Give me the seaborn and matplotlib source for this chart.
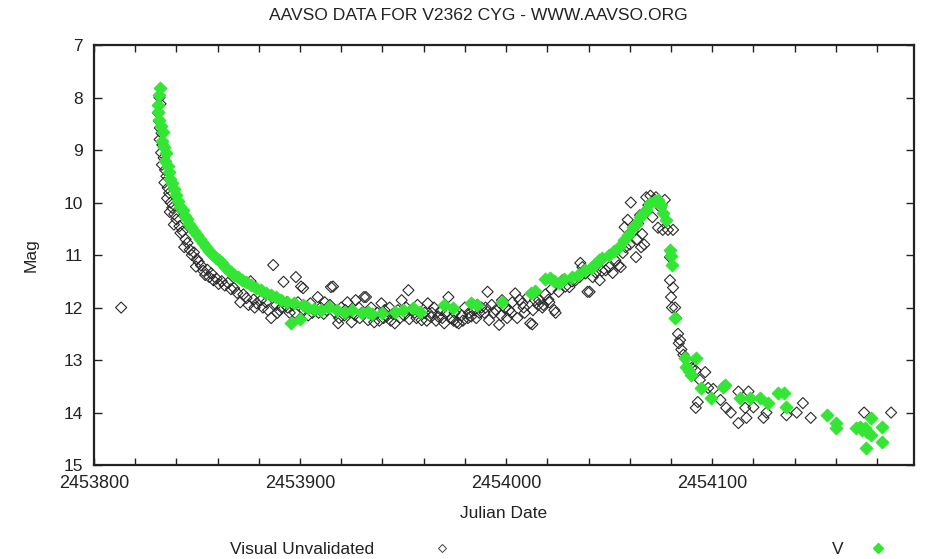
import numpy as np
import pandas as pd
import matplotlib
matplotlib.use("Agg")
import matplotlib.pyplot as plt
from matplotlib.lines import Line2D
from matplotlib.ticker import MultipleLocator
import seaborn as sns

TITLE = "AAVSO DATA FOR V2362 CYG - WWW.AAVSO.ORG"
JD0 = 2453800
x_ticks = [2453800, 2453900, 2454000, 2454100]
x_tick_labels = ["2453800", "2453900", "2454000", "2454100"]
y_ticks = [7, 8, 9, 10, 11, 12, 13, 14, 15]

# Visual Unvalidated observations: days after JD 2453800, magnitude
vis_day = [13.2,
    31.8, 32.3, 31.2, 31.6, 32.0, 32.8, 31.9, 33.2, 32.6, 33.8, 33.0, 34.5, 35.2, 34.2, 35.8,
    36.5, 35.5, 37.2, 38.0, 36.8, 39.0, 40.0, 38.8, 41.5, 42.0, 43.0, 44.5, 45.4, 43.8, 46.5,
    47.5, 48.5, 50.0, 50.8, 49.5, 52.0, 53.0, 54.0, 55.0, 56.0, 57.0, 58.0, 59.5, 60.5, 62.0,
    63.5, 65.0, 66.5, 68.0, 69.5, 71.0, 72.5, 74.0, 76.0, 77.5, 79.0, 81.0, 82.0, 83.5, 86.0,
    87.0, 88.5, 90.0, 91.0, 92.0, 93.5, 95.0, 96.5, 98.0, 99.0, 100.5, 101.5, 103.0, 105.0, 106.0,
    107.0, 108.6, 110.0, 111.5, 113.0, 114.5, 115.0, 116.0, 117.0, 118.5, 120.0, 121.5, 123.0, 124.0, 125.0,
    126.5, 127.0, 128.5, 130.0, 131.0, 132.0, 133.0, 134.5, 136.0, 137.5, 139.5, 141.0, 142.0, 143.5, 145.0,
    146.0, 147.5, 149.3, 150.5, 151.5, 152.6, 154.0, 155.6, 157.0, 159.0, 160.5, 162.0, 163.5, 165.0, 166.0,
    167.0, 168.5, 170.0, 171.0, 172.0, 173.5, 175.0, 176.0, 177.0, 178.5, 180.0, 181.5, 183.0, 184.5, 186.0,
    188.0, 189.5, 191.0, 191.7, 193.0, 195.0, 196.6, 198.0, 199.5, 201.5, 203.0, 204.4, 205.4, 206.5, 207.8,
    209.0, 210.5, 211.7, 212.7, 214.0, 215.5, 216.0, 217.6, 219.0, 220.5, 222.0, 223.4, 224.0, 225.5, 227.3,
    228.8, 230.7, 232.0, 233.7, 235.6, 236.0, 237.0, 238.5, 239.5, 240.5, 242.0, 243.4, 245.4, 246.5, 248.3,
    250.0, 251.7, 253.0, 254.5, 255.6, 256.6, 257.5, 258.0, 259.0, 260.0, 260.5, 261.5, 263.0, 263.5, 264.0,
    265.0, 265.5, 266.0, 267.0, 268.0, 269.0, 270.0, 271.0, 272.0, 272.7, 273.7, 275.0, 276.0, 277.0, 278.5,
    279.5, 279.5, 280.0, 280.5, 281.0, 281.0, 282.0, 282.4, 283.4, 283.8, 284.4, 285.0, 286.0, 288.5, 290.0,
    292.0, 293.0, 292.0, 294.0, 296.6, 298.0, 300.5, 304.0, 306.8, 309.0, 312.7, 312.7, 316.0, 316.6, 317.6,
    320.0, 324.9, 326.3, 336.0, 341.0, 344.0, 347.8, 373.7, 386.8,
    102.0, 104.0, 109.0, 112.0, 119.0, 122.0, 129.0, 135.0, 138.5, 140.5, 144.0, 148.5, 153.0, 156.5, 158.0,
    161.5, 164.0, 169.0, 174.5, 179.0, 182.0, 185.5, 187.0, 190.0, 194.0, 197.5, 200.5, 202.5, 208.5, 213.0,
    218.0, 221.0, 75.0, 78.0, 84.5, 89.0, 94.0, 97.5]
vis_mag = [12.0,
    8.0, 8.12, 8.3, 8.45, 8.58, 8.68, 8.8, 8.9, 9.05, 9.15, 9.28, 9.38, 9.5, 9.62, 9.72,
    9.82, 9.92, 10.0, 10.1, 10.18, 10.22, 10.32, 10.42, 10.45, 10.58, 10.55, 10.7, 10.77, 10.85, 10.9,
    11.0, 10.95, 11.08, 11.13, 11.22, 11.2, 11.3, 11.38, 11.28, 11.42, 11.35, 11.48, 11.45, 11.55, 11.5,
    11.58, 11.53, 11.65, 11.63, 11.72, 11.9, 11.75, 11.82, 11.5, 11.85, 11.92, 11.86, 12.0, 11.9, 12.2,
    11.19, 11.95, 12.05, 12.0, 11.51, 11.9, 12.1, 11.95, 11.42, 11.9, 11.6, 11.63, 12.0, 11.92, 12.1,
    12.05, 11.8, 12.0, 12.12, 12.05, 11.95, 11.61, 11.6, 12.1, 12.3, 12.0, 12.15, 11.9, 12.08, 12.28,
    12.14, 11.86, 12.0, 12.1, 11.8, 11.8, 12.24, 12.0, 12.28, 12.1, 11.92, 12.05, 12.17, 12.0, 12.12,
    12.3, 12.05, 11.86, 12.15, 12.0, 11.67, 12.05, 12.1, 11.95, 12.24, 12.1, 11.92, 12.18, 12.0, 12.25,
    12.17, 12.05, 12.3, 12.1, 11.8, 12.2, 12.1, 12.28, 12.3, 12.15, 12.0, 12.2, 12.17, 12.05, 11.95,
    12.0, 12.1, 11.7, 12.24, 11.95, 12.05, 12.33, 11.86, 12.0, 12.05, 11.9, 11.73, 12.2, 11.85, 11.92,
    12.1, 11.8, 12.3, 12.32, 11.86, 11.95, 11.86, 12.0, 11.75, 11.85, 11.65, 12.05, 12.1, 11.7, 11.48,
    11.6, 11.61, 11.5, 11.48, 11.42, 11.15, 11.23, 11.35, 11.7, 11.7, 11.42, 11.33, 11.48, 11.3, 11.29,
    11.23, 11.34, 11.1, 11.2, 11.23, 10.96, 10.47, 10.85, 10.33, 10.8, 10.0, 10.55, 11.04, 10.7, 10.4,
    10.24, 10.85, 10.6, 10.8, 9.9, 10.05, 9.87, 10.28, 9.95, 9.9, 10.48, 10.1, 10.52, 9.95, 10.52,
    11.04, 11.48, 11.8, 12.0, 10.52, 11.62, 12.0, 12.2, 12.5, 12.68, 12.62, 12.8, 12.9, 13.05, 13.15,
    13.2, 13.8, 13.91, 13.38, 13.23, 13.53, 13.55, 13.76, 13.91, 14.0, 13.6, 14.2, 13.91, 14.1, 13.6,
    13.9, 14.1, 14.0, 14.05, 14.0, 13.82, 14.1, 14.0, 14.0,
    12.05, 12.15, 12.1, 11.9, 12.2, 12.05, 12.2, 12.15, 12.25, 12.2, 12.25, 12.2, 12.22, 12.2, 12.1,
    12.25, 12.1, 12.2, 12.25, 12.25, 12.1, 12.2, 12.1, 12.0, 12.1, 12.15, 12.2, 12.1, 12.0, 12.05,
    11.95, 11.9, 11.95, 12.0, 12.05, 12.1, 12.0, 12.1]

# V observations: days after JD 2453800, magnitude
v_day = [32.2, 31.8, 31.3, 31.0, 31.7, 32.5, 33.5, 33.0, 34.2, 35.0, 34.5, 35.8, 36.5, 37.0, 38.0,
    38.8, 40.0, 40.8, 42.0, 43.0, 44.0, 45.0, 46.0, 47.0, 48.5, 50.0, 51.5, 53.0, 54.5, 56.0,
    57.5, 59.0, 60.5, 62.0, 63.5, 65.0, 66.5, 68.0, 70.0, 72.0, 74.0, 76.0, 78.5, 81.0, 83.5,
    86.0, 88.5, 91.0, 93.5, 95.6, 97.0, 100.0, 101.5, 104.0, 107.0, 110.0, 114.0, 118.0, 122.0, 125.0,
    130.0, 133.0, 135.0, 140.0, 146.0, 150.0, 155.0, 158.0, 170.0, 174.0, 183.0, 186.0, 198.0, 212.0, 214.0,
    219.0, 221.5, 223.0, 225.9, 228.0, 232.0, 235.0, 238.5, 241.0, 243.0, 245.0, 246.5, 250.0, 252.5, 255.0,
    257.0, 259.0, 261.5, 263.0, 265.0, 266.5, 268.0, 270.0, 272.0, 273.7, 275.0, 276.0, 277.6, 279.5, 280.0,
    280.3, 282.0, 286.8, 287.3, 289.8, 292.0, 288.5, 294.6, 299.5, 305.4, 306.3, 313.7, 318.5, 323.4, 327.3,
    332.0, 334.6, 336.0, 355.6, 360.0, 360.0, 370.0, 371.5, 372.7, 374.0, 375.0, 377.0, 374.6, 377.0, 382.4,
    382.4]
v_mag = [7.82, 7.95, 8.15, 8.28, 8.42, 8.55, 8.65, 8.82, 8.95, 9.05, 9.2, 9.3, 9.42, 9.55, 9.62,
    9.75, 9.85, 9.98, 10.08, 10.14, 10.25, 10.32, 10.4, 10.47, 10.55, 10.62, 10.7, 10.78, 10.85, 10.92,
    10.98, 11.05, 11.1, 11.15, 11.22, 11.28, 11.32, 11.38, 11.42, 11.48, 11.52, 11.57, 11.62, 11.67, 11.72,
    11.76, 11.8, 11.85, 11.9, 12.3, 11.92, 12.22, 11.95, 12.0, 12.02, 12.05, 11.98, 12.05, 12.08, 12.05,
    12.1, 12.08, 12.12, 12.1, 12.08, 12.05, 12.0, 12.08, 11.95, 12.0, 11.92, 11.95, 11.9, 11.72, 11.68,
    11.45, 11.44, 11.5, 11.53, 11.45, 11.42, 11.38, 11.29, 11.25, 11.18, 11.1, 11.05, 11.0, 10.92, 10.85,
    10.72, 10.62, 10.47, 10.4, 10.28, 10.2, 10.14, 10.0, 9.98, 9.95, 10.05, 10.2, 10.33, 10.9, 11.02,
    11.19, 12.2, 12.97, 13.13, 13.28, 12.97, 13.2, 13.53, 13.72, 13.51, 13.48, 13.72, 13.72, 13.72, 13.82,
    13.63, 13.63, 13.9, 14.05, 14.2, 14.3, 14.3, 14.28, 14.33, 14.3, 14.37, 14.43, 14.68, 14.1, 14.27,
    14.56]

vis_df = pd.DataFrame({"jd": JD0 + np.array(vis_day), "mag": vis_mag})
v_df = pd.DataFrame({"jd": JD0 + np.array(v_day), "mag": v_mag})

sns.set_theme(style="white")
plt.rcParams["font.family"] = ["Liberation Sans", "DejaVu Sans"]

GREEN = "#33e633"
INK = "#222222"
fig = plt.figure(figsize=(9.3, 5.59), dpi=100)
ax = fig.add_axes([0.101, 0.168, 0.882, 0.7515])

sns.scatterplot(data=vis_df, x="jd", y="mag", ax=ax, marker="D", s=32,
                facecolor="none", edgecolor="#2a2a2a", linewidth=0.8, zorder=2)
sns.scatterplot(data=v_df, x="jd", y="mag", ax=ax, marker="D", s=42,
                color=GREEN, edgecolor=GREEN, linewidth=0.8, zorder=3)

ax.set_xlim(2453800, 2454198)
ax.set_ylim(15, 7)
ax.set_xticks(x_ticks)
ax.set_xticklabels(x_tick_labels)
ax.xaxis.set_minor_locator(MultipleLocator(20))
ax.set_yticks(y_ticks)
ax.set_yticklabels([str(t) for t in y_ticks])
ax.tick_params(axis="both", which="both", direction="in", top=True, right=True,
               bottom=True, left=True, colors=INK, labelcolor=INK,
               labelsize=13)
ax.tick_params(axis="y", which="major", labelsize=12.5)
ax.tick_params(axis="x", which="major", length=5, width=1.0, pad=7)
ax.tick_params(axis="x", which="minor", length=5, width=1.0)
ax.tick_params(axis="y", which="major", length=6, width=1.0, pad=8)
for sp in ax.spines.values():
    sp.set_color(INK)
    sp.set_linewidth(1.6)

ax.set_xlabel("Julian Date", fontsize=12.5, color=INK, labelpad=10)
ax.set_ylabel("Mag", fontsize=12.5, color=INK, labelpad=18)
ax.grid(False)

fig.text(0.514, 0.972, TITLE, ha="center", va="center", fontsize=12.6, color=INK)

h1 = Line2D([], [], marker="D", linestyle="none", markersize=4.5,
            markerfacecolor="none", markeredgecolor="#444444", markeredgewidth=0.7)
h2 = Line2D([], [], marker="D", linestyle="none", markersize=5,
            markerfacecolor=GREEN, markeredgecolor=GREEN)
leg1 = fig.legend([h1], ["Visual Unvalidated"], loc="center right",
                  bbox_to_anchor=(0.511, 0.017), frameon=False, markerfirst=False,
                  handletextpad=2.9, fontsize=12.5, labelcolor=INK)
leg2 = fig.legend([h2], ["V"], loc="center right",
                  bbox_to_anchor=(0.980, 0.017), frameon=False, markerfirst=False,
                  handletextpad=1.0, fontsize=12.5, labelcolor=INK)

fig.savefig("out.png", dpi=100)
